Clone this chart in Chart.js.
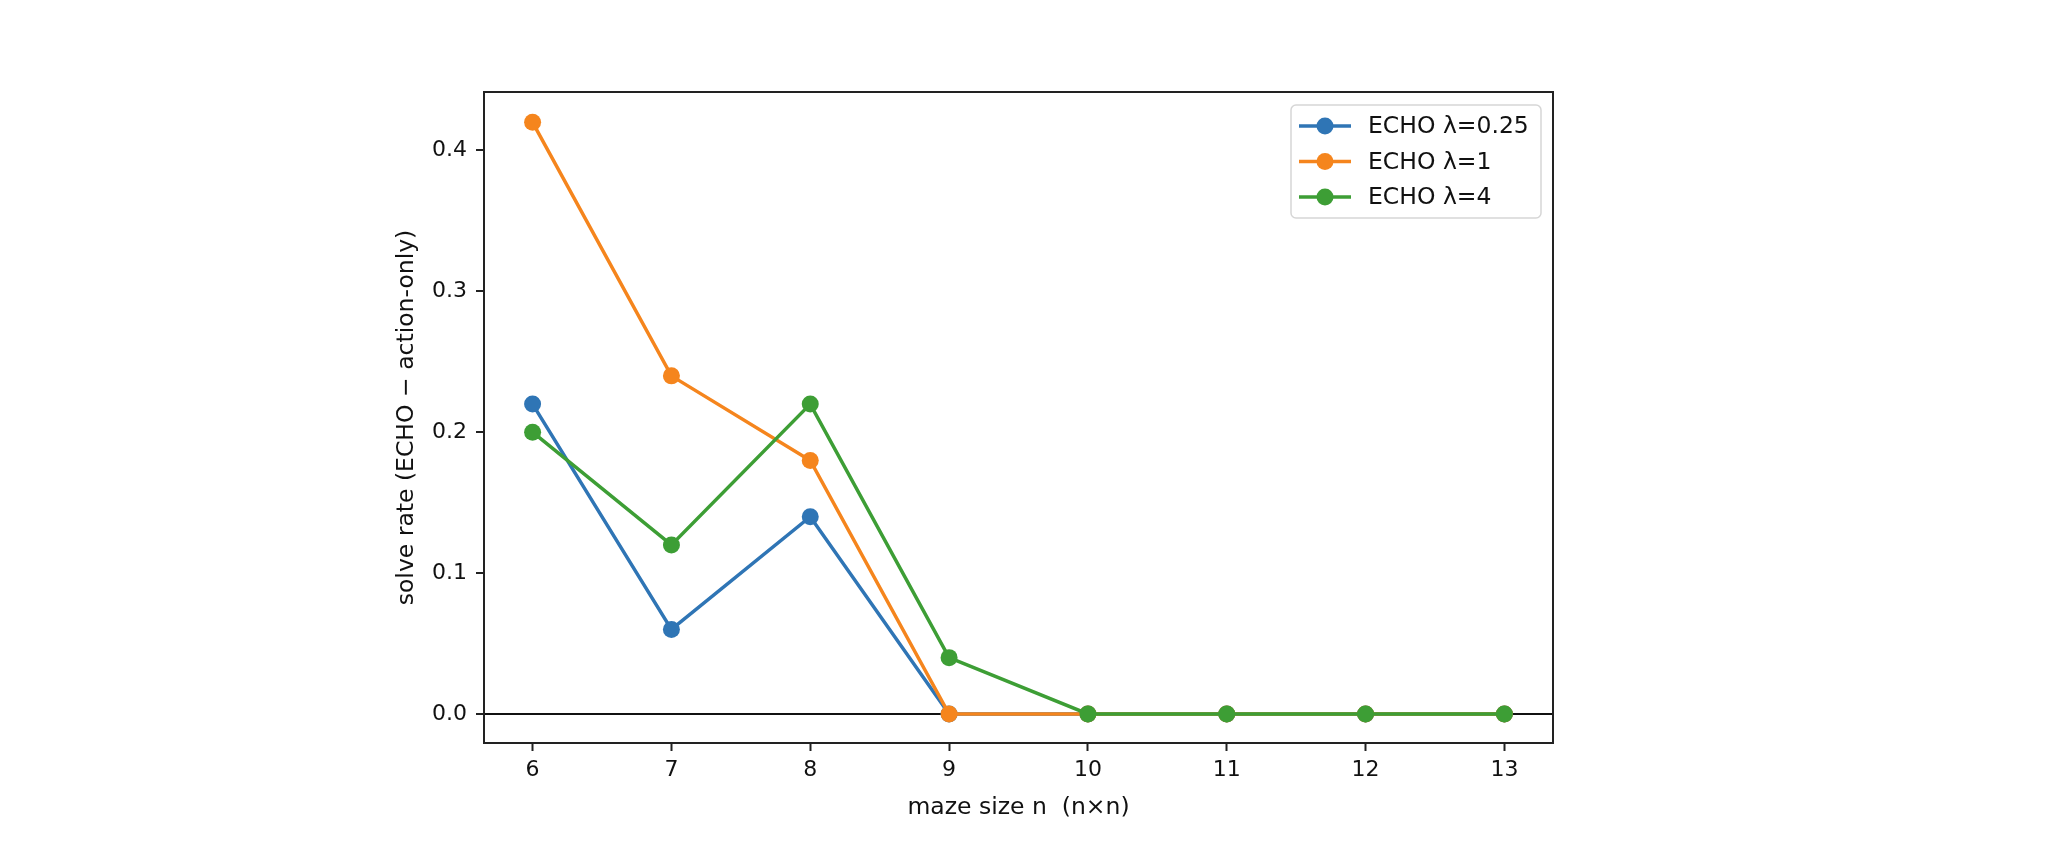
<!DOCTYPE html>
<html>
<head>
<meta charset="utf-8">
<script src="https://cdn.jsdelivr.net/npm/chart.js@4.4.1/dist/chart.umd.min.js"></script>
<style>
  html, body { margin: 0; padding: 0; background: #fff; }
  canvas { display: block; }
</style>
</head>
<body>
<canvas id="myChart" width="2047" height="850"></canvas>
<script>
// maze sizes on the x axis
var sizes = [6, 7, 8, 9, 10, 11, 12, 13];
// solve rate difference (ECHO - action-only)
var lam025 = [0.22, 0.06, 0.14, 0.0, 0.0, 0.0, 0.0, 0.0];
var lam1   = [0.42, 0.24, 0.18, 0.0, 0.0, 0.0, 0.0, 0.0];
var lam4   = [0.20, 0.12, 0.22, 0.04, 0.0, 0.0, 0.0, 0.0];
var yTicks = [0, 0.1, 0.2, 0.3, 0.4];

var FONT = "'DejaVu Sans', sans-serif";

function pts(vals) {
  return sizes.map(function(s, i){ return {x: s, y: vals[i]}; });
}

function series(label, vals, color, order) {
  return {
    label: label,
    data: pts(vals),
    borderColor: color,
    backgroundColor: color,
    pointBackgroundColor: color,
    pointBorderWidth: 0,
    pointRadius: 8.5,
    borderWidth: 3.5,
    order: order,
    clip: false
  };
}

// frame round the plot + legend box inside the top right corner
var framePlugin = {
  id: 'frame',
  afterDraw: function(chart) {
    var c = chart.ctx, a = chart.chartArea;
    c.save();
    c.strokeStyle = '#222';
    c.lineWidth = 2;
    c.strokeRect(a.left, a.top, a.right - a.left, a.bottom - a.top);

    // legend
    var bw = 250, bh = 113;
    var bx = a.right - 12 - bw, by = a.top + 13;
    c.beginPath();
    c.roundRect(bx, by, bw, bh, 5);
    c.fillStyle = 'rgba(255,255,255,0.8)';
    c.fill();
    c.strokeStyle = '#d6d6d6';
    c.lineWidth = 1.5;
    c.stroke();
    c.font = '23.5px ' + FONT;
    c.textBaseline = 'middle';
    c.textAlign = 'left';
    chart.data.datasets.forEach(function(ds, i) {
      var y = by + 21 + i * 35.5;
      c.strokeStyle = ds.borderColor;
      c.lineWidth = 3.5;
      c.beginPath();
      c.moveTo(bx + 8, y);
      c.lineTo(bx + 60, y);
      c.stroke();
      c.fillStyle = ds.borderColor;
      c.beginPath();
      c.arc(bx + 34, y, 8.5, 0, Math.PI * 2);
      c.fill();
      c.fillStyle = '#111';
      c.fillText(ds.label, bx + 77, y + 1);
    });
    c.restore();
  }
};

var ctx = document.getElementById('myChart').getContext('2d');
var myChart = new Chart(ctx, {
  type: 'line',
  data: {
    datasets: [
      series('ECHO \u03bb=0.25', lam025, '#2f75b5', 2),
      series('ECHO \u03bb=1', lam1, '#f5851d', 1),
      series('ECHO \u03bb=4', lam4, '#3d9e35', 0)
    ]
  },
  options: {
    responsive: false,
    animation: false,
    devicePixelRatio: 1,
    layout: { padding: { left: 393, right: 494, top: 92, bottom: 0 } },
    plugins: { legend: { display: false }, tooltip: { enabled: false } },
    scales: {
      x: {
        type: 'linear',
        min: 5.65,
        max: 13.35,
        afterBuildTicks: function(s) { s.ticks = sizes.map(function(v){ return {value: v}; }); },
        afterFit: function(s) { s.height = 107; },
        ticks: { color: '#111', font: { family: FONT, size: 22 }, padding: 6,
                 callback: function(v) { return String(v); } },
        grid: { drawOnChartArea: false, tickLength: 8, tickColor: '#222', tickWidth: 2 },
        border: { display: false },
        title: { display: true, text: 'maze size n  (n\u00d7n)', color: '#111',
                 font: { family: FONT, size: 23.5 }, padding: { top: 0, bottom: 28 } }
      },
      y: {
        min: -0.0206,
        max: 0.4415,
        afterBuildTicks: function(s) { s.ticks = yTicks.map(function(v){ return {value: v}; }); },
        afterFit: function(s) { s.width = 91; },
        ticks: { color: '#111', font: { family: FONT, size: 22 }, padding: 9,
                 callback: function(v) { return v.toFixed(1); } },
        grid: {
          drawOnChartArea: true,
          tickLength: 8,
          tickColor: '#222',
          tickWidth: 2,
          lineWidth: 2,
          color: function(c) { return c.tick && c.tick.value === 0 ? '#111' : 'rgba(0,0,0,0)'; }
        },
        border: { display: false },
        title: { display: true, text: 'solve rate (ECHO \u2212 action-only)', color: '#111',
                 font: { family: FONT, size: 23.5 }, padding: { top: 0, bottom: 0 } }
      }
    }
  },
  plugins: [framePlugin]
});
</script>
</body>
</html>
